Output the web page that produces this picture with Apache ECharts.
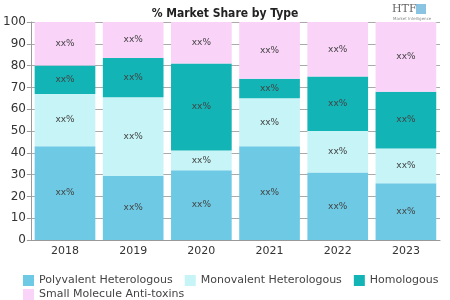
<!DOCTYPE html>
<html><head><meta charset="utf-8">
<script src="https://cdn.jsdelivr.net/npm/echarts@6/dist/echarts.min.js"></script>
<style>html,body{margin:0;padding:0;background:#fff}#c{width:450px;height:300px}</style>
</head><body><div id="c"></div>
<script>
var years = ['2018','2019','2020','2021','2022','2023'];
var seriesNames = ['Polyvalent Heterologous','Monovalent Heterologous','Homologous','Small Molecule Anti-toxins'];
var polyvalent = [43, 29.5, 32, 43, 31, 26];
var monovalent = [24, 36, 9, 22, 19, 16];
var homologous = [13, 18, 40, 9, 25, 26];
var smallMolecule = [20, 16.5, 19, 26, 25, 32];
var yTicks = [0,10,20,30,40,50,60,70,80,90,100];
var colors = ['#6ECAE4','#C6F4F7','#13B4B6','#FAD3F8'];
var values = [polyvalent, monovalent, homologous, smallMolecule];

var legendText = {fontFamily:'DejaVu Sans',fontSize:11,color:'#444'};
var chart = echarts.init(document.getElementById('c'));
chart.setOption({
  animation:false,
  title:{text:'% Market Share by Type',left:'center',top:3,
    textStyle:{fontFamily:'DejaVu Sans Condensed, Liberation Sans',fontWeight:'bold',fontSize:12,color:'#222'}},
  graphic:[{type:'text',left:392,top:4,style:{text:'HTF',fontFamily:'DejaVu Serif',fontSize:11,fill:'#666'}},
           {type:'rect',left:416,top:4,shape:{width:10,height:10},style:{fill:'#3a9fd0',opacity:0.6}},
           {type:'text',left:393,top:17,style:{text:'Market Intelligence',fontFamily:'DejaVu Sans',fontSize:4,fill:'#888'}}],
  grid:{left:30,right:10,top:22,bottom:60},
  legend:[{top:270,left:18,itemWidth:11,itemHeight:11,itemGap:12,icon:'rect',
    textStyle:legendText,data:seriesNames.slice(0,3)},
    {top:284,left:18,itemWidth:11,itemHeight:11,itemGap:12,icon:'rect',
    textStyle:legendText,data:seriesNames.slice(3)}],
  xAxis:{type:'category',data:years,
    axisLine:{lineStyle:{color:'#999'}},axisTick:{show:false},
    axisLabel:{fontFamily:'DejaVu Sans',fontSize:11,color:'#333',margin:6}},
  yAxis:{type:'value',min:0,max:100,interval:10,
    axisLine:{show:true,lineStyle:{color:'#999'}},axisTick:{show:true,length:4,lineStyle:{color:'#999'}},
    splitLine:{lineStyle:{color:'#aaa'}},
    axisLabel:{fontFamily:'DejaVu Sans',fontSize:12,color:'#333',margin:5,
      formatter:function(v){return yTicks.indexOf(v)>=0?String(v):'';}}},
  series: seriesNames.map(function(n,i){
    return {name:n,type:'bar',stack:'s',data:values[i],barCategoryGap:'11%',
      itemStyle:{color:colors[i]},
      label:{show:true,position:'inside',formatter:'xx%',fontFamily:'DejaVu Sans',fontSize:9,color:'#444'}};
  })
});
</script></body></html>
